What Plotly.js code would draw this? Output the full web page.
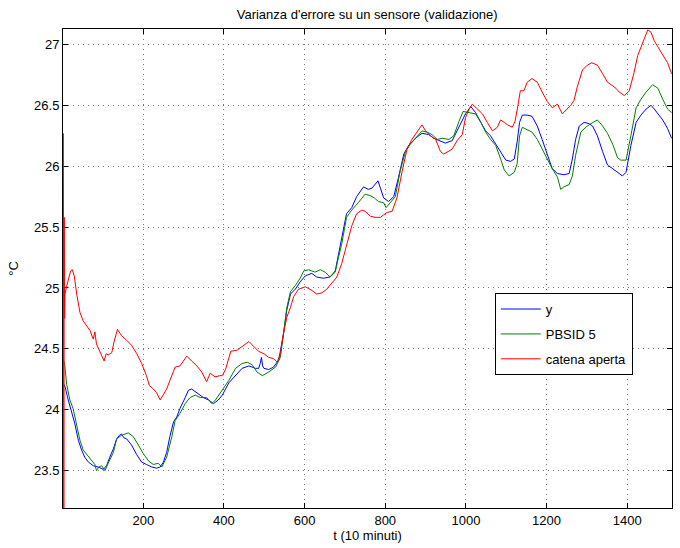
<!DOCTYPE html>
<html>
<head>
<meta charset="utf-8">
<script src="https://cdn.plot.ly/plotly-3.0.1.min.js"></script>
<style>html,body{margin:0;padding:0;background:#fff;}#chart{width:680px;height:548px;}</style>
</head>
<body>
<div id="chart"></div>
<script>
// ---- data ----
const seriesNames = ["y", "PBSID 5", "catena aperta"];
const seriesColors = ["#0000ff", "#008000", "#ff0000"];

const tY = [1,6,14,22,30,39,47,55,64,76,88,101,109,117,126,134,141,146,152,159,171,184,196,208,221,233,242,250,258,266,275,283,291,304,312,320,333,349,362,374,386,396,412,429,445,462,478,486,490,493,496,499,511,523,536,548,556,565,577,589,602,618,630,647,663,676,684,692,704,717,729,746,758,767,775,782,788,796,808,821,833,846,858,875,891,908,920,933,949,966,983,999,1012,1024,1037,1049,1061,1074,1086,1099,1111,1120,1127,1133,1140,1152,1164,1177,1189,1202,1214,1227,1243,1256,1264,1272,1281,1293,1305,1314,1326,1339,1351,1364,1376,1388,1397,1409,1422,1434,1447,1459,1467,1476,1488,1500,1510];
const vY = [24.22,24.19,24.08,23.99,23.89,23.75,23.67,23.61,23.57,23.54,23.53,23.51,23.54,23.61,23.68,23.76,23.79,23.80,23.77,23.76,23.71,23.63,23.57,23.55,23.53,23.52,23.53,23.57,23.65,23.78,23.90,23.94,24.01,24.10,24.16,24.17,24.14,24.10,24.08,24.05,24.08,24.12,24.22,24.28,24.34,24.36,24.34,24.34,24.38,24.43,24.36,24.34,24.33,24.35,24.41,24.63,24.82,24.95,24.99,25.05,25.10,25.12,25.09,25.08,25.09,25.14,25.28,25.42,25.61,25.66,25.75,25.83,25.81,25.82,25.85,25.88,25.82,25.74,25.71,25.75,25.91,26.10,26.17,26.23,26.27,26.26,26.23,26.21,26.19,26.21,26.32,26.43,26.49,26.44,26.36,26.29,26.25,26.18,26.11,26.05,26.04,26.06,26.20,26.36,26.42,26.42,26.41,26.33,26.22,26.09,25.98,25.94,25.93,25.94,26.06,26.22,26.33,26.36,26.35,26.33,26.25,26.12,26.01,25.98,25.95,25.92,25.95,26.17,26.36,26.42,26.47,26.50,26.47,26.43,26.38,26.31,26.23];

const tP = [1,5,10,18,26,35,43,51,60,72,80,84,90,97,105,113,126,134,146,163,175,188,200,213,225,237,246,258,271,279,291,304,316,329,341,357,370,379,396,412,429,445,458,470,482,495,511,528,540,548,556,565,577,589,598,610,626,639,651,663,676,684,692,704,717,733,750,762,773,783,796,802,812,825,837,850,862,875,891,904,916,929,941,958,970,983,993,1008,1024,1037,1049,1061,1074,1086,1095,1107,1120,1127,1133,1140,1152,1164,1177,1189,1202,1214,1227,1235,1243,1256,1264,1272,1285,1297,1310,1326,1339,1351,1364,1376,1384,1397,1409,1422,1434,1447,1463,1476,1488,1500,1510];
const vP = [24.42,24.38,24.21,24.08,24.01,23.87,23.75,23.67,23.63,23.58,23.55,23.50,23.53,23.54,23.50,23.56,23.65,23.76,23.79,23.81,23.78,23.71,23.64,23.58,23.55,23.56,23.53,23.61,23.78,23.91,23.97,24.05,24.10,24.12,24.10,24.10,24.05,24.08,24.16,24.24,24.34,24.38,24.39,24.37,24.31,24.28,24.31,24.35,24.43,24.63,24.84,24.97,25.02,25.08,25.14,25.15,25.13,25.15,25.13,25.09,25.13,25.25,25.36,25.58,25.64,25.70,25.77,25.76,25.74,25.71,25.70,25.66,25.70,25.75,25.96,26.12,26.18,26.23,26.29,26.28,26.26,26.22,26.23,26.22,26.25,26.37,26.45,26.44,26.43,26.36,26.28,26.22,26.17,26.06,25.97,25.92,25.95,26.02,26.25,26.32,26.30,26.28,26.22,26.14,26.06,25.98,25.91,25.81,25.83,25.85,25.92,26.09,26.28,26.32,26.35,26.38,26.33,26.27,26.18,26.07,26.05,26.05,26.25,26.48,26.55,26.61,26.67,26.64,26.55,26.47,26.44];

const tC = [2,3,4,5,6,9,14,20,24,29,35,43,51,60,68,76,80,84,93,98,103,108,113,122,127,136,146,159,171,184,196,208,215,225,233,242,250,258,266,279,291,308,320,333,345,357,366,378,390,396,404,417,433,445,462,474,486,499,511,523,532,540,548,556,565,573,585,602,618,630,643,655,668,680,692,704,717,729,742,750,763,775,788,796,804,817,829,842,854,866,879,891,900,912,925,937,945,956,966,978,991,999,1008,1016,1028,1041,1053,1066,1078,1086,1095,1103,1115,1122,1129,1135,1144,1152,1164,1177,1189,1202,1214,1227,1239,1247,1260,1268,1276,1289,1301,1312,1326,1339,1351,1364,1372,1380,1393,1405,1417,1426,1438,1451,1459,1467,1476,1488,1500,1510];
const vC = [26.27,22.8,25.58,24.75,24.95,25.00,25.06,25.14,25.15,25.10,24.95,24.80,24.73,24.69,24.65,24.58,24.64,24.54,24.47,24.44,24.40,24.46,24.45,24.47,24.55,24.66,24.61,24.57,24.53,24.46,24.38,24.28,24.20,24.17,24.14,24.08,24.12,24.17,24.24,24.35,24.36,24.44,24.40,24.36,24.31,24.23,24.30,24.27,24.28,24.28,24.33,24.48,24.49,24.52,24.56,24.52,24.48,24.46,24.43,24.42,24.39,24.46,24.63,24.76,24.84,24.93,24.99,25.01,24.98,24.95,24.96,24.99,25.04,25.09,25.20,25.36,25.51,25.61,25.64,25.63,25.59,25.58,25.58,25.60,25.62,25.63,25.74,25.96,26.14,26.22,26.28,26.34,26.29,26.25,26.22,26.12,26.10,26.12,26.14,26.21,26.26,26.40,26.47,26.51,26.47,26.43,26.36,26.29,26.32,26.38,26.36,26.34,26.32,26.37,26.50,26.62,26.62,26.69,26.72,26.69,26.61,26.53,26.48,26.51,26.43,26.46,26.50,26.54,26.65,26.79,26.83,26.85,26.83,26.76,26.69,26.66,26.64,26.61,26.58,26.62,26.77,26.91,27.01,27.12,27.10,27.03,26.98,26.92,26.85,26.76];

const xTicks = [200,400,600,800,1000,1200,1400];
const yTicks = [23.5,24,24.5,25,25.5,26,26.5,27];

const titleText = "Varianza d'errore su un sensore (validazione)";
const xTitle = "t (10 minuti)";
const yTitle = "°C";

// ---- build chart ----
const xs = [tY, tP, tC];
const ys = [vY, vP, vC];
const traces = xs.map((x, i) => ({
  x: x, y: ys[i], type: "scatter", mode: "lines",
  name: seriesNames[i], legendgroup: "g" + i,
  line: {color: seriesColors[i], width: 1}
}));

const font = "Liberation Sans, Arial, Helvetica, sans-serif";
const axisCommon = {
  showline: true, linecolor: "#000", linewidth: 1, mirror: "ticks",
  ticks: "inside", ticklen: 5, tickcolor: "#000", tickwidth: 1,
  showgrid: true, gridcolor: "#777", gridwidth: 1, griddash: "1px,4px",
  zeroline: false, layer: "below traces",
  tickfont: {family: font, size: 13, color: "#000"}
};

const layout = {
  width: 680, height: 548,
  paper_bgcolor: "#fff", plot_bgcolor: "#fff",
  margin: {l: 63, r: 8, t: 29, b: 40, pad: 0},
  font: {family: font, size: 13, color: "#000"},
  title: {text: titleText, font: {family: font, size: 13, color: "#000"},
          x: 0.54, xref: "container", y: 1 - 14/548, yref: "container", yanchor: "middle", xanchor: "center"},
  xaxis: Object.assign({}, axisCommon, {
    range: [1, 1511], tickvals: xTicks, ticktext: xTicks.map(String),
    title: {text: xTitle, font: {family: font, size: 13, color: "#000"}, standoff: 4}
  }),
  yaxis: Object.assign({}, axisCommon, {
    range: [23.193, 27.127], tickvals: yTicks, ticktext: yTicks.map(String),
    title: {text: yTitle, font: {family: font, size: 13, color: "#000"}, standoff: 12}
  }),
  showlegend: true,
  legend: {
    x: 0.709, y: 0.4487, xanchor: "left", yanchor: "top",
    bgcolor: "#fff", bordercolor: "#000", borderwidth: 1,
    font: {family: font, size: 13, color: "#000"},
    itemwidth: 40, tracegroupgap: 5, traceorder: "grouped"
  }
};

Plotly.newPlot("chart", traces, layout, {staticPlot: true, displayModeBar: false});
</script>
</body>
</html>
